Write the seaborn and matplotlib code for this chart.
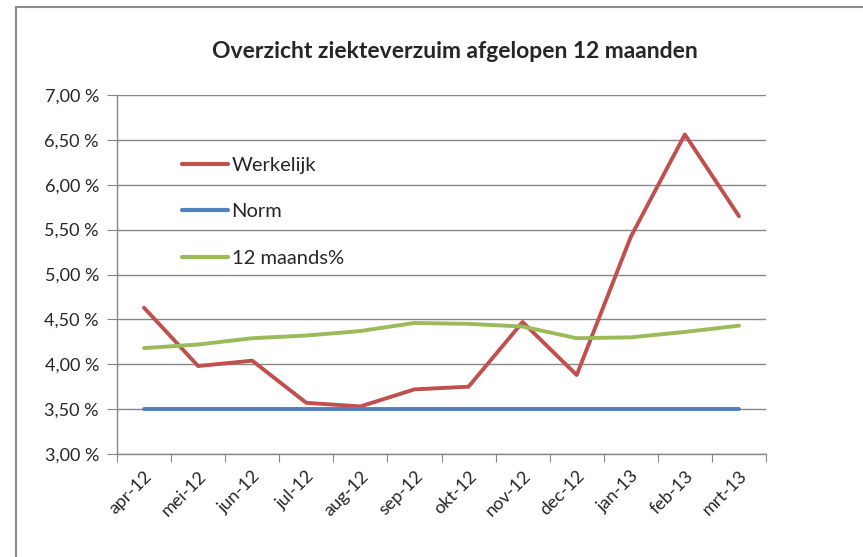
import matplotlib
matplotlib.use("Agg")
import matplotlib.pyplot as plt
from matplotlib.lines import Line2D
from matplotlib.ticker import FixedLocator, FuncFormatter
import numpy as np
import pandas as pd
import seaborn as sns

months = ["apr-12", "mei-12", "jun-12", "jul-12", "aug-12", "sep-12",
          "okt-12", "nov-12", "dec-12", "jan-13", "feb-13", "mrt-13"]
werkelijk = [4.63, 3.98, 4.04, 3.57, 3.53, 3.72, 3.75, 4.47, 3.88, 5.42, 6.56, 5.65]
norm = [3.50] * 12
twaalf_maands = [4.18, 4.22, 4.29, 4.32, 4.37, 4.46, 4.45, 4.42, 4.29, 4.30, 4.36, 4.43]

series = {"Werkelijk": werkelijk, "Norm": norm, "12 maands%": twaalf_maands}
colors = {"Werkelijk": "#C0504D", "Norm": "#4F81BD", "12 maands%": "#9BBB59"}

rows = []
for name, vals in series.items():
    for i, v in enumerate(vals):
        rows.append({"pos": i, "maand": months[i], "waarde": v, "serie": name})
df = pd.DataFrame(rows)

sns.set_style("white")
plt.rcParams["font.family"] = ["Lato", "DejaVu Sans"]

fig = plt.figure(figsize=(8.63, 5.57), dpi=100)
ax = fig.add_axes([117 / 863, 1 - 454 / 557, (766 - 117) / 863, (454 - 95) / 557])

sns.lineplot(data=df, x="pos", y="waarde", hue="serie", palette=colors,
             linewidth=2.8, sort=False, ax=ax)

# y axis
ax.set_ylim(3.0, 7.0)
ax.set_yticks(np.arange(3.0, 7.01, 0.5))
ax.yaxis.set_major_formatter(FuncFormatter(lambda v, p: ("%.2f" % v).replace(".", ",") + " %"))
ax.grid(axis="y", color="#868686", linewidth=1)
ax.set_axisbelow(True)

# x axis: ticks on category boundaries, labels at centres
ax.set_xlim(-0.5, len(months) - 0.5)
ax.xaxis.set_major_locator(FixedLocator(np.arange(-0.5, len(months), 1.0)))
ax.xaxis.set_minor_locator(FixedLocator(np.arange(len(months))))
ax.xaxis.set_major_formatter(FuncFormatter(lambda v, p: ""))
ax.set_xticklabels(months, minor=True, rotation=45, ha="right",
                   rotation_mode="anchor")
ax.tick_params(axis="x", which="major", length=6, color="#868686", direction="out",
               bottom=True)
ax.tick_params(axis="x", which="minor", length=0, labelsize=13, pad=10)
ax.tick_params(axis="y", length=7, color="#868686", direction="out", left=True,
               labelsize=13, pad=6)

for s in ["top", "right"]:
    ax.spines[s].set_visible(False)
for s in ["left", "bottom"]:
    ax.spines[s].set_color("#868686")
    ax.spines[s].set_linewidth(1)

ax.set_xlabel("")
ax.set_ylabel("")

leg = ax.legend(loc="upper left", bbox_to_anchor=(0.088, 0.85), frameon=False,
                fontsize=14.5, handlelength=2.3, handletextpad=0.15,
                labelspacing=1.45, borderaxespad=0)
for line in leg.get_lines():
    line.set_linewidth(3)

fig.text(455 / 863, 1 - 52 / 557, "Overzicht ziekteverzuim afgelopen 12 maanden",
         ha="center", va="center", fontsize=16.5, fontweight="bold")

# chart border (top and left only visible)
fig.add_artist(Line2D([16 / 863, 1.0], [1 - 7 / 557, 1 - 7 / 557],
                      transform=fig.transFigure, color="#8a8a8a", linewidth=1.5))
fig.add_artist(Line2D([16 / 863, 16 / 863], [0.0, 1 - 7 / 557],
                      transform=fig.transFigure, color="#8a8a8a", linewidth=1.5))

fig.savefig("out.png", dpi=100)
